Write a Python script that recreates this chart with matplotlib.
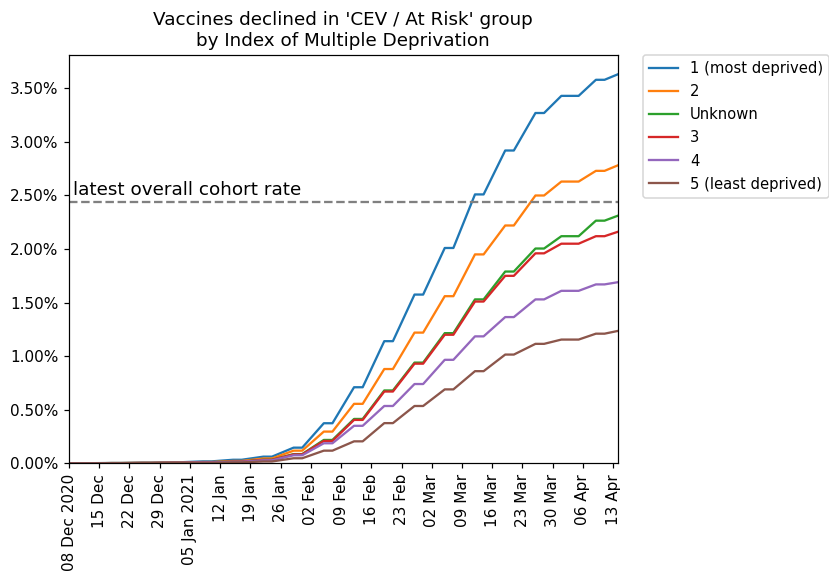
import matplotlib
matplotlib.use("Agg")
import matplotlib.pyplot as plt
import pandas as pd
from matplotlib.ticker import FuncFormatter, FixedLocator

# ---------------- data ----------------
dates = ["2020-12-08",
         "2020-12-11", "2020-12-13", "2020-12-18", "2020-12-20", "2020-12-25", "2020-12-27",
         "2021-01-01", "2021-01-03", "2021-01-08", "2021-01-10", "2021-01-15", "2021-01-17",
         "2021-01-22", "2021-01-24", "2021-01-29", "2021-01-31",
         "2021-02-05", "2021-02-07", "2021-02-12", "2021-02-14", "2021-02-19", "2021-02-21",
         "2021-02-26", "2021-02-28",
         "2021-03-05", "2021-03-07", "2021-03-12", "2021-03-14", "2021-03-19", "2021-03-21",
         "2021-03-26", "2021-03-28",
         "2021-04-01", "2021-04-05", "2021-04-09", "2021-04-11", "2021-04-14"]

imd_1 = [0.000, 0.001, 0.001, 0.003, 0.003, 0.006, 0.006, 0.010, 0.010, 0.018, 0.018,
         0.033, 0.033, 0.062, 0.062, 0.146, 0.146, 0.374, 0.374, 0.71, 0.71, 1.14, 1.14,
         1.575, 1.575, 2.01, 2.01, 2.51, 2.51, 2.92, 2.92, 3.27, 3.27, 3.43, 3.43,
         3.58, 3.58, 3.63]
imd_2 = [0.000, 0.001, 0.001, 0.002, 0.002, 0.004, 0.004, 0.007, 0.007, 0.012, 0.012,
         0.022, 0.022, 0.045, 0.045, 0.118, 0.118, 0.296, 0.296, 0.555, 0.555, 0.88, 0.88,
         1.22, 1.22, 1.56, 1.56, 1.95, 1.95, 2.22, 2.22, 2.50, 2.50, 2.63, 2.63,
         2.73, 2.73, 2.78]
imd_unknown = [0.000, 0.000, 0.000, 0.002, 0.002, 0.003, 0.003, 0.005, 0.005, 0.009, 0.009,
               0.016, 0.016, 0.033, 0.033, 0.086, 0.086, 0.218, 0.218, 0.414, 0.414, 0.68, 0.68,
               0.94, 0.94, 1.215, 1.215, 1.53, 1.53, 1.79, 1.79, 2.005, 2.005, 2.12, 2.12,
               2.265, 2.265, 2.31]
imd_3 = [0.000, 0.000, 0.000, 0.002, 0.002, 0.003, 0.003, 0.005, 0.005, 0.009, 0.009,
         0.016, 0.016, 0.032, 0.032, 0.083, 0.083, 0.209, 0.209, 0.405, 0.405, 0.67, 0.67,
         0.93, 0.93, 1.20, 1.20, 1.51, 1.51, 1.75, 1.75, 1.96, 1.96, 2.05, 2.05,
         2.12, 2.12, 2.16]
imd_4 = [0.000, 0.000, 0.000, 0.001, 0.001, 0.003, 0.003, 0.005, 0.005, 0.008, 0.008,
         0.014, 0.014, 0.028, 0.028, 0.075, 0.075, 0.187, 0.187, 0.35, 0.35, 0.535, 0.535,
         0.74, 0.74, 0.966, 0.966, 1.185, 1.185, 1.365, 1.365, 1.53, 1.53, 1.61, 1.61,
         1.67, 1.67, 1.69]
imd_5 = [0.000, 0.000, 0.000, 0.001, 0.001, 0.002, 0.002, 0.003, 0.003, 0.005, 0.005,
         0.009, 0.009, 0.017, 0.017, 0.047, 0.047, 0.118, 0.118, 0.205, 0.205, 0.375, 0.375,
         0.535, 0.535, 0.69, 0.69, 0.86, 0.86, 1.015, 1.015, 1.115, 1.115, 1.155, 1.155,
         1.21, 1.21, 1.235]

series_labels = ["1 (most deprived)", "2", "Unknown", "3", "4", "5 (least deprived)"]
series_values = [imd_1, imd_2, imd_unknown, imd_3, imd_4, imd_5]

overall_rate = 2.44
overall_label = "latest overall cohort rate"

tick_dates = ["2020-12-08", "2020-12-15", "2020-12-22", "2020-12-29", "2021-01-05",
              "2021-01-12", "2021-01-19", "2021-01-26", "2021-02-02", "2021-02-09",
              "2021-02-16", "2021-02-23", "2021-03-02", "2021-03-09", "2021-03-16",
              "2021-03-23", "2021-03-30", "2021-04-06", "2021-04-13"]
tick_labels = ["08 Dec 2020", "15 Dec", "22 Dec", "29 Dec", "05 Jan 2021",
               "12 Jan", "19 Jan", "26 Jan", "02 Feb", "09 Feb",
               "16 Feb", "23 Feb", "02 Mar", "09 Mar", "16 Mar",
               "23 Mar", "30 Mar", "06 Apr", "13 Apr"]

title = "Vaccines declined in 'CEV / At Risk' group\nby Index of Multiple Deprivation"

# ---------------- plot ----------------
plt.rcParams["font.family"] = ["DejaVu Sans"]
plt.rcParams["font.size"] = 10

DPI = 110
x = pd.to_datetime(dates)
fig = plt.figure(figsize=(829 / DPI, 574 / DPI), dpi=DPI)
ax = fig.add_axes([69 / 829, (574 - 463.3) / 574, (617.5 - 69) / 829, (463.3 - 55) / 574])

colors = ["#1f77b4", "#ff7f0e", "#2ca02c", "#d62728", "#9467bd", "#8c564b"]
for lab, vals, c in zip(series_labels, series_values, colors):
    ax.plot(x, vals, label=lab, color=c, linewidth=1.5)

ax.axhline(overall_rate, color="grey", linestyle="--", linewidth=1.5)
ax.text(x[0] + pd.Timedelta(days=1), overall_rate + 0.03, overall_label,
        fontsize=12, ha="left", va="bottom")

ax.set_xlim(x[0], x[-1])
ax.set_ylim(0, max(max(v) for v in series_values) * 1.05)

td = pd.to_datetime(tick_dates)
ax.xaxis.set_major_locator(FixedLocator(matplotlib.dates.date2num(td)))
ax.set_xticklabels(tick_labels, rotation=90)
ax.yaxis.set_major_formatter(FuncFormatter(lambda v, p: f"{v:.2f}%"))
ax.set_yticks([0, 0.5, 1.0, 1.5, 2.0, 2.5, 3.0, 3.5])

ax.set_title(title, fontsize=12)
ax.legend(loc="upper left", bbox_to_anchor=(1.046, 1), borderaxespad=0, fontsize=9.7,
          labelspacing=0.55)

fig.savefig("out.png", dpi=DPI)
